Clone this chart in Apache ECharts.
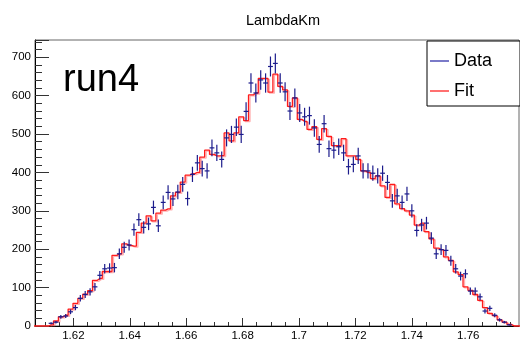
<!DOCTYPE html>
<html>
<head>
<meta charset="utf-8">
<script src="https://cdn.jsdelivr.net/npm/echarts@6/dist/echarts.min.js"></script>
<style>
  html, body { margin: 0; padding: 0; background: #fff; }
  #chart { width: 520px; height: 342px; }
</style>
</head>
<body>
<div id="chart"></div>
<script>
// bin layout of the histogram (LambdaKm, run4)
const firstCenter = 1.6121;
const binWidth = 0.0017285;

const dataCounts = [
  7, 10, 24, 26, 37, 48, 72, 82, 89, 102,
  132, 149, 151, 152, 188, 205, 211, 251, 277, 257,
  266, 309, 261, 322, 348, 331, 349, 369, 332, 395,
  425, 410, 404, 464, 451, 434, 490, 499, 518, 499,
  559, 633, 607, 641, 633, 676, 684, 633, 610, 560,
  594, 555, 545, 548, 516, 473, 527, 462, 458, 467,
  451, 415, 421, 443, 404, 404, 398, 391, 398, 374,
  326, 339, 322, 344, 300, 249, 263, 268, 229, 188,
  199, 197, 170, 149, 130, 136, 91, 91, 76, 39,
  46, 28, 16, 10, 3
];

// fit template per bin
const fitCounts = [
  3, 13, 24, 28, 44, 59, 72, 83, 92, 119,
  124, 142, 142, 184, 188, 214, 210, 208, 244, 268,
  287, 274, 294, 302, 305, 339, 348, 375, 393, 397,
  400, 440, 458, 447, 443, 444, 503, 482, 503, 545,
  535, 602, 607, 645, 645, 609, 656, 624, 615, 572,
  594, 538, 533, 512, 519, 486, 514, 494, 470, 470,
  488, 443, 443, 434, 404, 400, 384, 391, 365, 335,
  369, 318, 306, 300, 289, 263, 268, 246, 227, 203,
  199, 180, 171, 141, 134, 102, 93, 82, 67, 48,
  33, 27, 16, 10, 4
];

const xTicks = [1.62, 1.64, 1.66, 1.68, 1.70, 1.72, 1.74, 1.76];

// minor ticks every 0.005 between the labelled ones
const xMinorTicks = [];
for (let k = 322; k <= 355; k++) {
  if (k % 4 !== 0) xMinorTicks.push(k * 0.005);
}

const font = 'Liberation Sans, Arial, Helvetica, sans-serif';

const dataPoints = dataCounts.map((v, i) => [firstCenter + i * binWidth, v]);
const fitPoints = [];
for (let i = -4; i < fitCounts.length + 4; i++) {
  const v = (i >= 0 && i < fitCounts.length) ? fitCounts[i] : 0;
  fitPoints.push([firstCenter + i * binWidth, v]);
}

const chart = echarts.init(document.getElementById('chart'), null, { renderer: 'canvas' });

chart.setOption({
  animation: false,
  backgroundColor: '#fff',
  title: {
    text: 'LambdaKm',
    left: 278,
    textAlign: 'center',
    top: 8,
    textStyle: { fontFamily: font, fontSize: 14.5, fontWeight: 'normal', color: '#000' }
  },
  legend: {
    left: 427,
    top: 41,
    orient: 'vertical',
    padding: [11, 28, 6, 3],
    itemGap: 12,
    itemWidth: 19,
    itemHeight: 2,
    icon: 'rect',
    borderColor: '#000',
    borderWidth: 1,
    borderRadius: 0,
    backgroundColor: '#fff',
    textStyle: { fontFamily: font, fontSize: 18, color: '#000' },
    data: [
      { name: 'Data', itemStyle: { color: '#7a7ac8' } },
      { name: 'Fit', itemStyle: { color: '#ff7070' } }
    ]
  },
  grid: {
    left: 35,
    right: 1,
    top: 40,
    bottom: 14,
    show: true,
    borderColor: '#666',
    borderWidth: 1
  },
  xAxis: [{
    type: 'value',
    min: 1.6064,
    max: 1.778,
    splitLine: { show: false },
    axisLine: { onZero: false, lineStyle: { color: '#000', width: 1 } },
    axisTick: { customValues: xTicks, inside: true, length: 8, lineStyle: { color: '#333' } },
    axisLabel: {
      customValues: xTicks,
      margin: 4,
      fontFamily: font,
      fontSize: 11.5,
      color: '#000',
      formatter: v => String(+(+v).toFixed(3))
    }
  }, {
    type: 'value',
    position: 'bottom',
    min: 1.6064,
    max: 1.778,
    splitLine: { show: false },
    axisLine: { show: false },
    axisTick: { customValues: xMinorTicks, inside: true, length: 4, lineStyle: { color: '#333' } },
    axisLabel: { show: false }
  }],
  yAxis: {
    type: 'value',
    min: 0,
    max: 745,
    interval: 100,
    splitLine: { show: false },
    axisLine: { show: true, lineStyle: { color: '#000', width: 1 } },
    axisTick: { show: true, inside: true, length: 14, lineStyle: { color: '#333' } },
    minorTick: { show: true, splitNumber: 5, length: 7, lineStyle: { color: '#333' } },
    axisLabel: {
      margin: 4,
      showMaxLabel: false,
      fontFamily: font,
      fontSize: 11.5,
      color: '#000'
    }
  },
  graphic: [{
    type: 'text',
    left: 63,
    top: 62,
    style: { text: 'run4', font: '38px ' + font, fill: '#000' }
  }],
  series: [{
    name: 'Fit',
    type: 'line',
    step: 'middle',
    data: fitPoints,
    symbol: 'none',
    clip: true,
    lineStyle: {
      color: '#ff1a1a',
      width: 1.3,
      shadowColor: 'rgba(255,80,80,0.45)',
      shadowOffsetX: 1.5,
      shadowOffsetY: 1,
      shadowBlur: 0
    },
    itemStyle: { color: '#ff7070' },
    z: 2
  }, {
    name: 'Data',
    type: 'custom',
    data: dataPoints,
    clip: true,
    itemStyle: { color: '#1c1c8c' },
    renderItem: function (params, api) {
      const x = api.value(0);
      const y = api.value(1);
      const e = Math.sqrt(y);
      const l = api.coord([x - binWidth / 2, y]);
      const r = api.coord([x + binWidth / 2, y]);
      const t = api.coord([x, y + e]);
      const b = api.coord([x, y - e]);
      const st = { stroke: '#1c1c8c', lineWidth: 1.2 };
      return {
        type: 'group',
        children: [
          { type: 'line', shape: { x1: l[0], y1: l[1], x2: r[0], y2: r[1] }, style: st },
          { type: 'line', shape: { x1: t[0], y1: t[1], x2: b[0], y2: b[1] }, style: st }
        ]
      };
    },
    z: 3
  }]
});
</script>
</body>
</html>
